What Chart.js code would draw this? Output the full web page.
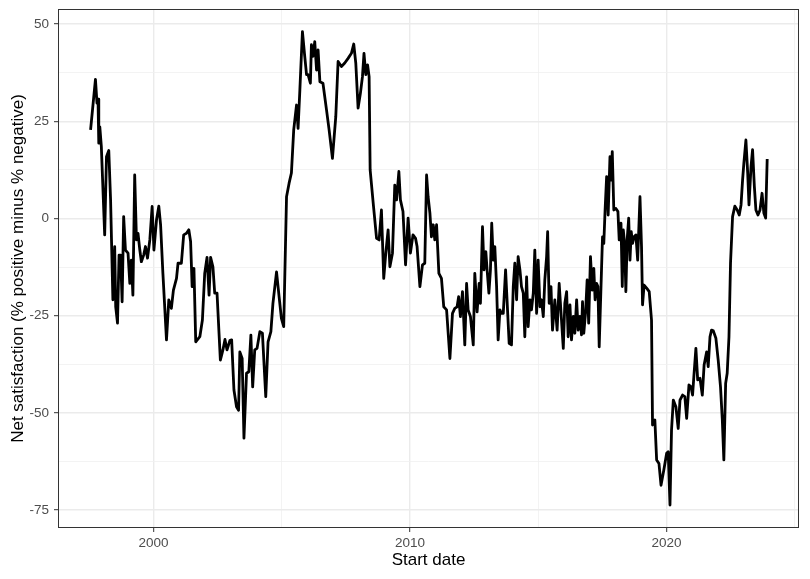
<!DOCTYPE html>
<html><head><meta charset="utf-8">
<script src="https://cdn.jsdelivr.net/npm/chart.js@4/dist/chart.umd.min.js"></script>
<style>html,body{margin:0;padding:0;background:#fff}canvas{display:block}</style>
</head><body>
<canvas id="c" width="810" height="579"></canvas>
<script>
const years = [
1997.55,1997.74,1997.80,1997.84,1997.87,1997.91,1997.97,1998.10,1998.17,1998.26,
1998.33,1998.42,1998.49,1998.53,1998.60,1998.66,1998.72,1998.78,1998.84,1998.91,
1999.01,1999.08,1999.14,1999.20,1999.27,1999.34,1999.40,1999.47,1999.53,1999.62,
1999.69,1999.77,1999.86,1999.95,2000.02,2000.12,2000.21,2000.28,2000.37,2000.51,
2000.60,2000.70,2000.78,2000.90,2000.96,2001.09,2001.18,2001.29,2001.38,2001.45,
2001.51,2001.58,2001.65,
2001.81,2001.91,2002.00,2002.09,2002.17,2002.23,2002.32,2002.39,2002.48,2002.61,
2002.71,2002.79,2002.87,2002.98,2003.05,2003.14,2003.24,2003.32,2003.37,2003.46,
2003.53,2003.63,2003.72,2003.80,2003.87,2003.95,2004.04,2004.15,2004.25,2004.38,
2004.47,2004.58,2004.66,2004.80,2004.90,2004.99,2005.08,2005.19,2005.29,2005.38,
2005.47,2005.58,2005.64,2005.71,2005.81,2005.90,2005.97,2006.03,2006.12,2006.16,
2006.22,2006.29,2006.36,2006.42,2006.49,
2006.61,2006.75,2006.85,2006.98,2007.11,2007.20,2007.33,2007.46,2007.59,2007.72,
2007.81,2007.89,2007.98,2008.07,2008.15,2008.21,2008.28,2008.35,2008.41,2008.45,
2008.57,2008.70,2008.80,2008.89,2008.98,2009.06,2009.15,2009.22,2009.32,2009.41,
2009.48,2009.57,2009.63,2009.73,2009.83,2009.93,2010.02,2010.12,2010.22,2010.28,
2010.39,2010.49,2010.58,2010.65,2010.71,2010.78,2010.84,2010.91,2010.97,2011.04,
2011.13,2011.23,2011.32,
2011.43,2011.56,2011.66,2011.75,2011.84,2011.90,2011.97,2012.05,2012.14,2012.21,
2012.27,2012.36,2012.47,2012.53,2012.62,2012.70,2012.75,2012.83,2012.89,2012.96,
2013.01,2013.08,2013.14,2013.19,2013.25,2013.31,2013.38,2013.44,2013.51,2013.57,
2013.64,2013.73,2013.81,2013.87,2013.96,2014.03,2014.09,2014.16,2014.22,2014.29,
2014.35,2014.42,2014.48,2014.55,2014.61,2014.68,2014.74,2014.81,2014.87,2014.94,
2015.00,2015.07,2015.13,2015.20,2015.26,2015.33,2015.37,2015.43,2015.50,2015.56,
2015.65,2015.74,2015.82,
2015.91,2015.98,2016.04,2016.11,2016.17,2016.24,2016.30,2016.37,2016.43,2016.50,
2016.56,2016.63,2016.69,2016.73,2016.78,2016.85,2016.91,2016.97,2017.04,2017.11,
2017.17,2017.22,2017.28,2017.33,2017.38,2017.47,2017.51,2017.56,2017.61,
2017.67,2017.73,2017.80,2017.84,2017.89,2017.95,2018.03,2018.11,2018.16,2018.23,
2018.28,2018.32,2018.37,2018.42,2018.47,2018.53,2018.58,2018.63,2018.68,2018.74,
2018.81,2018.88,2018.97,2019.03,2019.07,2019.13,2019.23,2019.33,2019.42,
2019.46,2019.55,2019.62,2019.71,2019.79,2019.90,2020.01,2020.07,2020.14,2020.20,
2020.27,2020.37,2020.46,2020.53,2020.63,2020.72,2020.79,2020.88,2020.96,2021.02,
2021.07,2021.15,2021.22,2021.31,2021.40,2021.47,2021.57,2021.63,2021.70,2021.76,
2021.83,2021.93,2022.02,2022.11,2022.18,2022.24,2022.31,2022.37,2022.44,2022.50,
2022.58,2022.67,2022.76,2022.84,2022.91,2022.97,2023.02,2023.10,2023.17,2023.22,
2023.30,2023.36,2023.43,2023.49,2023.57,2023.65,2023.73,2023.80,2023.87,2023.93
];
const netSatisfaction = [
22.8,35.8,29.7,30.7,19.4,23.6,18.5,-4.2,15.9,17.5,
4.8,-20.9,-7.2,-22.7,-26.9,-9.4,-9.4,-21.4,0.5,-8.1,
-8.9,-16.7,-10.7,-19.7,11.2,-5.5,-3.8,-8.1,-11.1,-9.4,
-7.2,-10.2,-5.5,3.1,-8.1,-0.4,3.2,-1.6,-14.1,-31.2,
-20.9,-23.1,-18.4,-15.4,-11.5,-11.5,-4.2,-3.8,-2.9,-5.9,
-17.5,-12.8,-31.7,
-30.4,-26.1,-14.1,-10.0,-19.7,-10.0,-12.4,-19.2,-19.2,-36.4,
-33.8,-31.1,-33.8,-31.4,-31.2,-44.1,-48.4,-49.3,-34.3,-36.0,
-56.5,-39.8,-39.4,-30.0,-43.3,-33.8,-33.4,-29.1,-29.5,-45.8,
-31.7,-29.1,-21.8,-13.7,-20.1,-25.7,-27.8,5.6,9.1,11.7,
22.8,29.2,23.2,33.1,48.1,41.7,37.0,37.0,34.8,44.7,
41.7,45.5,38.2,43.4,35.2,
34.8,27.9,22.8,15.5,26.2,40.4,39.1,40.0,41.2,42.5,
44.9,40.0,28.4,32.2,36.5,42.5,37.0,39.5,36.5,12.5,
3.9,-5.1,-5.5,2.2,-15.4,-8.9,-2.9,-12.4,-8.9,8.6,
4.8,12.1,4.8,1.8,-11.9,0.1,-8.9,-4.2,-5.1,-7.2,
-17.5,-11.9,-11.5,11.2,5.6,1.4,-4.7,-1.6,-5.5,-1.6,
-14.1,-15.4,-22.7,
-23.5,-36.0,-24.4,-23.1,-22.7,-20.1,-25.2,-18.8,-32.5,-16.7,
-23.5,-25.2,-32.5,-14.1,-24.0,-16.7,-21.8,-2.1,-13.2,-8.5,
-13.2,-19.2,-13.2,-1.2,-10.7,-7.2,-17.5,-31.2,-23.5,-24.4,
-24.4,-13.2,-24.0,-32.1,-32.5,-17.5,-11.5,-20.9,-9.8,-13.2,
-17.5,-19.2,-30.4,-15.0,-27.8,-20.9,-23.5,-19.2,-8.1,-24.4,
-10.7,-22.7,-20.9,-25.2,-15.8,-9.8,-3.4,-21.8,-17.5,-28.7,
-20.9,-28.7,-16.7,
-26.1,-33.4,-21.8,-18.8,-30.4,-22.2,-31.2,-25.2,-29.5,-20.9,
-28.7,-25.2,-29.9,-21.4,-29.5,-24.0,-15.8,-26.9,-9.8,-18.4,
-12.8,-20.9,-16.7,-17.5,-33.0,-13.2,-4.7,-6.4,2.2,
10.8,0.9,15.9,9.9,17.2,2.2,2.6,1.8,-5.5,-1.2,
-17.5,-2.9,-6.4,-18.8,-5.5,0.1,-10.7,-3.4,-6.4,-4.7,
-4.2,-10.7,5.6,-7.2,-22.2,-17.1,-17.9,-18.8,-26.1,
-53.1,-51.8,-62.1,-63.0,-68.6,-64.7,-60.4,-60.0,-73.7,-54.4,
-46.7,-48.4,-54.0,-46.7,-45.4,-45.8,-51.4,-42.8,-43.3,-45.4,
-40.7,-33.4,-41.5,-41.1,-45.4,-37.7,-34.3,-38.1,-30.4,-28.7,
-28.9,-30.8,-36.4,-43.3,-51.8,-62.1,-42.4,-39.8,-30.4,-11.5,
0.5,3.2,2.2,0.9,3.5,9.9,14.2,20.2,11.7,3.5,
13.4,17.7,8.2,2.2,0.9,2.2,6.5,1.4,0.1,15.3
];
const xMajorTicks = [2000, 2010, 2020];
const yMajorTicks = [-75, -50, -25, 0, 25, 50];
const xTitle = 'Start date';
const yTitle = 'Net satisfaction (% positive minus % negative)';

const points = years.map((x, i) => ({ x: x, y: netSatisfaction[i] }));
const isMajor = (v, list) => list.some(t => Math.abs(t - v) < 1e-6);
const FONT = "'Liberation Sans', Arial, Helvetica, sans-serif";

const panelBorder = {
  id: 'panelBorder',
  afterDatasetsDraw(chart) {
    const { ctx, chartArea: a } = chart;
    ctx.save();
    ctx.strokeStyle = '#333333';
    ctx.lineWidth = 1;
    ctx.strokeRect(Math.round(a.left) + 0.5, Math.round(a.top) + 0.5,
      Math.round(a.right - a.left) - 1, Math.round(a.bottom - a.top) - 1);
    ctx.restore();
  }
};

function gridOpts(list) {
  return {
    color: c => isMajor(c.tick.value, list) ? '#EBEBEB' : '#F0F0F0',
    lineWidth: c => isMajor(c.tick.value, list) ? 1.4 : 0.8,
    tickColor: c => isMajor(c.tick.value, list) ? '#333333' : 'rgba(0,0,0,0)',
    tickWidth: 1,
    tickLength: 4,
    drawOnChartArea: true,
    drawTicks: true
  };
}

function zeroPad(s) {
  s.paddingTop = 0; s.paddingBottom = 0; s.paddingLeft = 0; s.paddingRight = 0;
}

new Chart(document.getElementById('c'), {
  type: 'line',
  data: {
    datasets: [{
      data: points,
      borderColor: '#000000',
      borderWidth: 2.8,
      pointRadius: 0,
      tension: 0,
      fill: false,
      borderJoinStyle: 'round'
    }]
  },
  options: {
    responsive: false,
    animation: false,
    devicePixelRatio: 1,
    layout: { padding: { left: 0, top: 9, right: 11, bottom: 0 } },
    plugins: { legend: { display: false }, tooltip: { enabled: false } },
    scales: {
      x: {
        type: 'linear',
        min: 1996.28,
        max: 2025.17,
        border: { display: false },
        grid: gridOpts(xMajorTicks),
        ticks: {
          stepSize: 5,
          includeBounds: false,
          autoSkip: false,
          maxRotation: 0,
          padding: 3,
          color: '#4D4D4D',
          font: { family: FONT, size: 13.5 },
          callback: v => isMajor(v, xMajorTicks) ? String(v) : ''
        },
        title: {
          display: true,
          text: xTitle,
          color: '#000000',
          font: { family: FONT, size: 17 },
          padding: { top: 0, bottom: 8 }
        },
        afterFit: s => { s.height = 51; zeroPad(s); }
      },
      y: {
        type: 'linear',
        min: -79.6,
        max: 53.9,
        border: { display: false },
        grid: gridOpts(yMajorTicks),
        ticks: {
          stepSize: 12.5,
          includeBounds: false,
          autoSkip: false,
          padding: 5,
          color: '#4D4D4D',
          font: { family: FONT, size: 13.5 },
          callback: v => isMajor(v, yMajorTicks) ? String(v) : ''
        },
        title: {
          display: true,
          text: yTitle,
          color: '#000000',
          font: { family: FONT, size: 17 },
          padding: { top: 8, bottom: 0 }
        },
        afterFit: s => { s.width = 58; zeroPad(s); }
      }
    }
  },
  plugins: [panelBorder]
});
</script>
</body></html>
